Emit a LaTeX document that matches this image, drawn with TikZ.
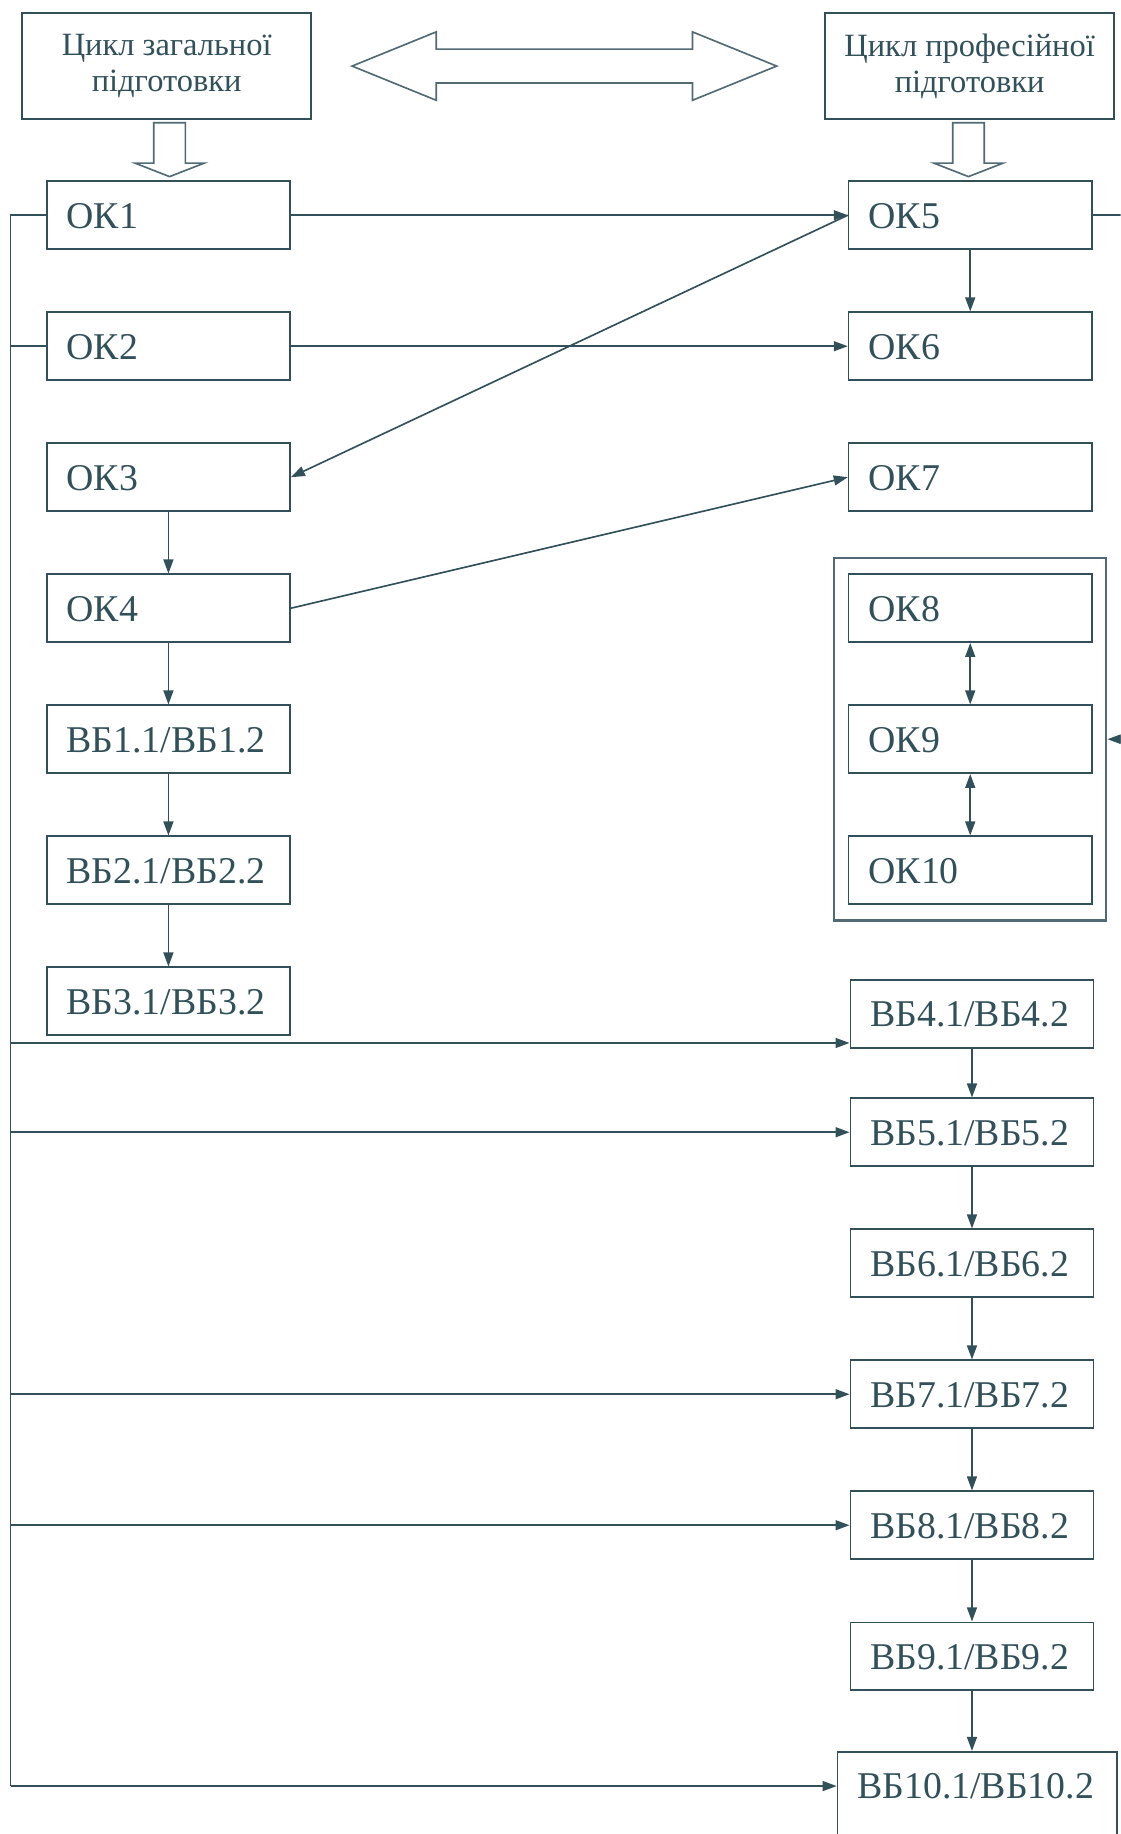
\documentclass[tikz,border=0pt]{standalone}
\usepackage{fontspec}
\setmainfont{Liberation Serif}
\usetikzlibrary{arrows.meta,positioning}
\definecolor{ink}{RGB}{50,80,90}

\begin{document}
\begin{tikzpicture}[
    x=0.02cm, y=-0.02cm,
    course/.style={draw=ink, line width=0.8pt, text=ink, minimum height=1.16cm,
        text width=3.48cm, inner xsep=0.34cm, align=left,
        text height=0.44cm, text depth=0pt, font=\fontsize{18.4}{22}\selectfont},
    cyclebox/.style={draw=ink, line width=0.8pt, text=ink, minimum width=4.94cm,
        minimum height=1.82cm, align=center, font=\fontsize{15.8}{17.6}\selectfont},
    group/.style={draw=ink!85, line width=1pt, minimum width=4.66cm,
        minimum height=6.2cm, inner sep=0pt},
    link/.style={draw=ink, line width=0.8pt},
    arr/.style={link, -{Triangle[length=2.4mm,width=1.7mm]}},
    darr/.style={link, {Triangle[length=2.4mm,width=1.7mm]}-{Triangle[length=2.4mm,width=1.7mm]}},
    hollow/.style={draw=ink!85, line width=0.8pt, fill=white, line join=miter},
]
\useasboundingbox (0,0) rectangle (958,1568);
\clip (0,0) rectangle (958,1568);

% --- Two cycles on top ---
\node[cyclebox] (genc) at (142.5,56.5) {Цикл загальної\\підготовки};
\node[cyclebox] (proc) at (829,56.5) {Цикл професійної\\підготовки};

% wide double arrow between the cycles
\coordinate (both) at (482.5,56.5);
\draw[hollow, shift={(both)}] (-181.5,0) -- (-109.5,-29.25) -- (-109.5,-14.5)
    -- (109.5,-14.5) -- (109.5,-29.25) -- (181.5,0) -- (109.5,29.25)
    -- (109.5,14.5) -- (-109.5,14.5) -- (-109.5,29.25) -- cycle;

% --- Left column: general cycle ---
\foreach \k [count=\i from 0] in {1,...,4}
    \node[course] (ok\k) at (144, 184+112*\i) {ОК\k};
\foreach \k [count=\i from 4] in {1,2,3}
    \node[course] (vb\k) at (144, 184+112*\i) {ВБ\k.1/ВБ\k.2};

% --- Right column: professional cycle ---
\foreach \k [count=\i from 0] in {5,...,10}
    \node[course] (ok\k) at (829.5, 184+112*\i) {ОК\k};
\node[group] (grp) at (829.5,632) {};
\node[course] (vb4) at (831,867) {ВБ4.1/ВБ4.2};
\foreach \k [count=\i from 0] in {5,...,9}
    \node[course] (vb\k) at (831, 968+112*\i) {ВБ\k.1/ВБ\k.2};
\node[course, text width=4.1cm, anchor=north, inner ysep=0.36cm, text depth=1.5cm]
    (vb10) at (835.5,1497) {ВБ10.1/ВБ10.2};

% Hollow arrows from the cycles down to OK1 and OK5
\coordinate (tipL) at (145,151);
\coordinate (tipR) at (828,151);
\foreach \t in {tipL,tipR}
    \draw[hollow, shift={(\t)}] (-13.5,-46) -- (13.5,-46) -- (13.5,-11.5)
        -- (29.5,-11.5) -- (0,0) -- (-29.5,-11.5) -- (-13.5,-11.5) -- cycle;

% --- Bus on the left ---
\coordinate (busT) at (9,184);
\coordinate (busB) at (9,1527);
\draw[link] (ok1.west) -- (busT) -- (busB);
\draw[link] (busT |- ok2.west) -- (ok2.west);
\coordinate (in4) at ([yshift=0.1cm]vb4.south west);
\draw[arr] (busT |- in4) -- (in4);
\foreach \k in {5,7,8}
    \draw[arr] (busT |- vb\k.west) -- (vb\k.west);
\draw[arr] (busB) -- (busB -| vb10.west);

% --- Cross links ---
\draw[arr] (ok1.east) -- (ok5.west);
\draw[arr] (ok2.east) -- (ok6.west);
\draw[arr] (ok5.west) -- (ok3.east);
\draw[arr] (ok4.east) -- (ok7.west);
\draw[arr] (ok5.east) -- ++(60,0) |- (grp.east);

% --- Chains ---
\foreach \a/\b in {ok3/ok4, ok4/vb1, vb1/vb2, vb2/vb3, ok5/ok6,
                   vb4/vb5, vb5/vb6, vb6/vb7, vb7/vb8, vb8/vb9}
    \draw[arr] (\a.south) -- (\b.north);
\draw[arr] (vb9.south) -- (vb9.south |- vb10.north);
\draw[darr] (ok8.south) -- (ok9.north);
\draw[darr] (ok9.south) -- (ok10.north);

\end{tikzpicture}
\end{document}
